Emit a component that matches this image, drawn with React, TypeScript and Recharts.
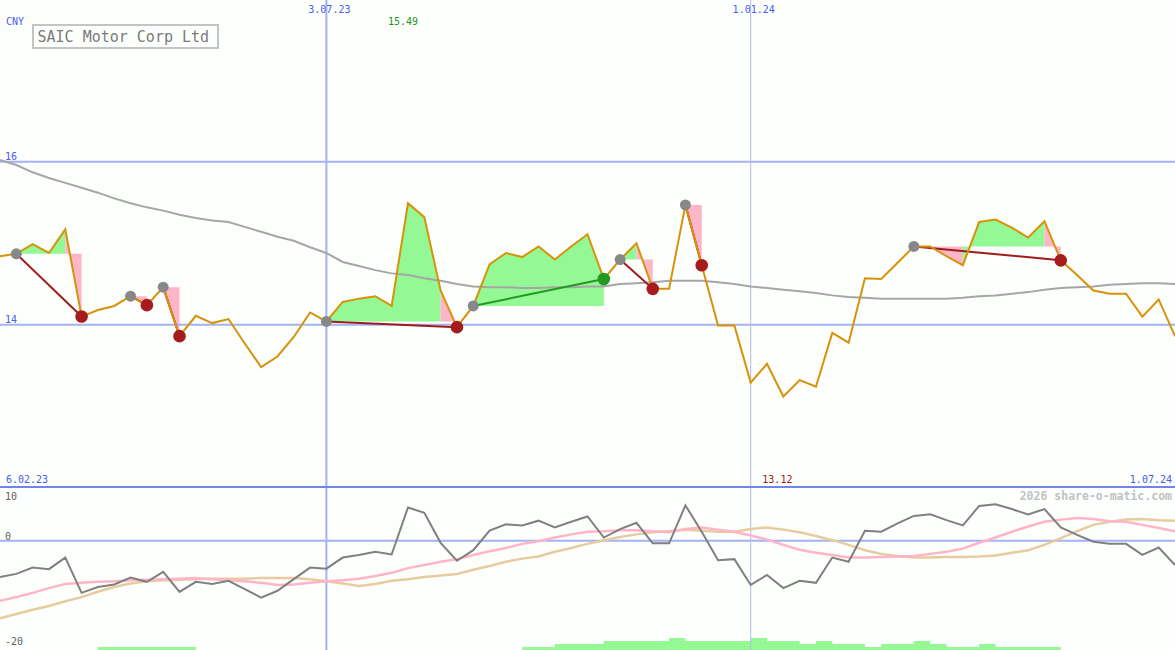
import React from "react";
import { ComposedChart, Line, Area, XAxis, YAxis, ReferenceLine } from "recharts";

const W = 1175;
const FONT = "'DejaVu Sans Mono', monospace";
const BLUE_TXT = "#4a5cf2";
const GRID = "#a3b3f3";
const GREEN = "#94f894";
const PINK = "#fdb6c8";

// week index of the labelled dates
const tickIdx = [0, 20, 46, 72];
const tickLabel = ["6.02.23", "3.07.23", "1.01.24", "1.07.24"];

// weekly close, CNY
const price = [
  14.84, 14.87, 14.99, 14.88, 15.17, 14.1, 14.18, 14.23, 14.35, 14.24,
  14.46, 13.86, 14.11, 14.02, 14.07, 13.77, 13.48, 13.61, 13.85, 14.15,
  14.04, 14.28, 14.32, 14.35, 14.23, 15.49, 15.32, 14.42, 13.97, 14.23,
  14.74, 14.88, 14.83, 14.96, 14.8, 14.96, 15.11, 14.56, 14.8, 15.0,
  14.44, 14.44, 15.47, 14.73, 13.99, 13.99, 13.29, 13.52, 13.12, 13.32,
  13.24, 13.9, 13.78, 14.57, 14.56, 14.76, 14.96, 14.96, 14.84, 14.73,
  15.26, 15.29, 15.19, 15.07, 15.27, 14.79, 14.61, 14.42, 14.38, 14.38,
  14.1, 14.31, 13.86,
];

// slow moving average
const avg = [
  16.02, 15.96, 15.87, 15.8, 15.74, 15.68, 15.62, 15.55, 15.49, 15.44,
  15.4, 15.35, 15.31, 15.28, 15.26, 15.2, 15.14, 15.08, 15.03, 14.95,
  14.88, 14.77, 14.72, 14.67, 14.63, 14.61, 14.57, 14.54, 14.5, 14.47,
  14.46, 14.46, 14.45, 14.45, 14.46, 14.46, 14.47, 14.47, 14.5, 14.51,
  14.52, 14.54, 14.54, 14.54, 14.52, 14.5, 14.47, 14.45, 14.43, 14.41,
  14.39, 14.36, 14.34, 14.33, 14.32, 14.32, 14.32, 14.32, 14.32, 14.33,
  14.35, 14.36, 14.38, 14.4, 14.43, 14.45, 14.46, 14.47, 14.49, 14.5,
  14.51, 14.51, 14.5,
];

// oscillator panel
const momentum = [
  -6.9, -6.3, -5.1, -5.4, -3.2, -9.9, -8.8, -8.3, -7.0, -7.8,
  -5.9, -9.7, -7.8, -8.2, -7.6, -9.2, -10.8, -9.5, -7.3, -5.1,
  -5.3, -3.2, -2.7, -2.1, -2.6, 6.3, 5.3, -0.4, -3.8, -1.8,
  1.9, 3.1, 2.9, 3.8, 2.5, 3.6, 4.6, 0.6, 2.2, 3.4,
  -0.5, -0.5, 6.7, 1.7, -3.7, -3.5, -8.4, -6.5, -9.0, -7.6,
  -8.0, -3.2, -4.0, 1.9, 1.7, 3.3, 4.7, 5.0, 3.9, 2.9,
  6.6, 6.9, 6.0, 5.0, 6.0, 2.5, 1.1, -0.2, -0.6, -0.6,
  -2.7, -1.3, -4.6,
];
const signal = [
  -11.4, -10.7, -9.9, -9.0, -8.2, -8.0, -7.8, -7.7, -7.5, -7.4,
  -7.3, -7.2, -7.1, -7.3, -7.5, -7.7, -8.0, -8.4, -8.3, -8.0,
  -7.7, -7.5, -7.2, -6.7, -6.1, -5.2, -4.6, -4.0, -3.5, -2.7,
  -2.0, -1.4, -0.6, -0.1, 0.6, 1.2, 1.7, 1.8, 2.0, 2.0,
  1.8, 1.6, 2.2, 2.5, 2.1, 1.7, 1.0, 0.2, -0.8, -1.7,
  -2.3, -2.7, -3.2, -3.2, -3.1, -3.0, -2.9, -2.5, -2.1, -1.5,
  -0.4, 0.6, 1.7, 2.7, 3.6, 4.0, 4.3, 4.1, 3.7, 3.6,
  3.0, 2.4, 1.8,
];
const trend = [
  -14.7, -13.9, -13.1, -12.4, -11.5, -10.7, -9.7, -8.8, -8.1, -7.7,
  -7.5, -7.4, -7.3, -7.2, -7.2, -7.2, -7.1, -7.1, -7.1, -7.3,
  -7.7, -8.1, -8.6, -8.2, -7.6, -7.3, -6.9, -6.6, -6.3, -5.5,
  -4.8, -4.0, -3.4, -3.0, -2.1, -1.4, -0.6, 0.1, 0.7, 1.2,
  1.6, 1.8, 2.1, 1.9, 1.7, 1.7, 2.2, 2.5, 2.1, 1.6,
  0.9, 0.1, -0.8, -1.8, -2.5, -2.9, -3.2, -3.2, -3.1, -3.1,
  -3.0, -2.8, -2.3, -1.8, -0.8, 0.5, 1.8, 3.0, 3.6, 4.0,
  4.1, 3.9, 3.8,
];
const activity = [
  null, null, null, null, null, null, 1, 1, 1, 1,
  1, 1, 1, null, null, null, null, null, null, null,
  null, null, null, null, null, null, null, null, null, null,
  null, null, 1, 1, 2, 2, 2, 3, 3, 3,
  3, 4, 3, 3, 3, 3, 4, 3, 3, 2,
  3, 2, 2, 1, 2, 2, 3, 2, 1, 1,
  2, 1, 1, 1, 1, 1, null, null, null, null,
  null, null, null,
];

// swing trades: start week -> end week
const swingFrom = [1, 8, 10, 20, 29, 38, 42, 56];
const swingTo = [5, 9, 11, 28, 37, 40, 43, 65];

const hiIdx = price.indexOf(Math.max(...price));
const loIdx = price.indexOf(Math.min(...price));

const rows: Record<string, any>[] = price.map((p, i) => ({
  i,
  price: p,
  avg: avg[i],
  mom: momentum[i],
  sig: signal[i],
  trend: trend[i],
  act: activity[i],
}));

// band between the entry level and the price, coloured per week
const bands: { key: string; color: string }[] = [];
swingFrom.forEach((a, k) => {
  const b = swingTo[k];
  const level = price[a];
  let start = a;
  for (let j = a; j < b; j++) {
    const up = price[j + 1] >= level;
    const last = j + 1 === b;
    const nextUp = last ? up : price[j + 2] >= level;
    if (last || nextUp !== up) {
      const key = `band${bands.length}`;
      bands.push({ key, color: up ? GREEN : PINK });
      for (let i = start; i <= j + 1; i++) rows[i][key] = [level, price[i]];
      start = j + 1;
    }
  }
  rows[a][`link${k}`] = price[a];
  rows[b][`link${k}`] = price[b];
});

const swingDot = (k: number) => (props: any) => {
  const { cx, cy, payload } = props;
  const key = `sd${k}-${payload?.i}`;
  if (cx == null || cy == null || payload?.[`link${k}`] == null) return <g key={key} />;
  const first = payload.i === swingFrom[k];
  const gain = price[swingTo[k]] > price[swingFrom[k]];
  return (
    <circle
      key={key}
      cx={cx}
      cy={cy}
      r={first ? 5.5 : 6.3}
      fill={first ? "#888888" : gain ? "#229a22" : "#a61c1c"}
    />
  );
};

const TopTick = (props: any) => {
  const v = props.payload.value;
  if (v === hiIdx) {
    return (
      <text x={props.x - 20} y={25} fill="#1c961c" fontSize={10} fontFamily={FONT}>
        {price[hiIdx].toFixed(2)}
      </text>
    );
  }
  return (
    <text x={props.x + 3} y={13} textAnchor="middle" fill={BLUE_TXT} fontSize={10} fontFamily={FONT}>
      {tickLabel[tickIdx.indexOf(v)]}
    </text>
  );
};

const BottomTick = (props: any) => {
  const v = props.payload.value;
  if (v === loIdx) {
    return (
      <text x={props.x - 21} y={483} fill="#a01818" fontSize={10} fontFamily={FONT}>
        {price[loIdx].toFixed(2)}
      </text>
    );
  }
  const atStart = v === tickIdx[0];
  return (
    <text
      x={atStart ? props.x + 6 : props.x - 3}
      y={483}
      textAnchor={atStart ? "start" : "end"}
      fill={BLUE_TXT}
      fontSize={10}
      fontFamily={FONT}
    >
      {tickLabel[tickIdx.indexOf(v)]}
    </text>
  );
};

const PriceTick = (props: any) => (
  <text x={5} y={props.y - 2} fill={BLUE_TXT} fontSize={10} fontFamily={FONT}>
    {props.payload.value}
  </text>
);

const OscTick = (props: any) => {
  const v = props.payload.value;
  return (
    <text x={5} y={v === 10 ? props.y + 12 : props.y - 1} fill="#606060" fontSize={10} fontFamily={FONT}>
      {v}
    </text>
  );
};

export default function App() {
  return (
    <div
      style={{
        position: "absolute",
        left: 0,
        top: 0,
        width: W,
        height: 650,
        background: "#fcfffc",
        overflow: "hidden",
      }}
    >
      <div style={{ position: "absolute", left: 0, top: 0 }}>
        <ComposedChart width={W} height={489} data={rows} margin={{ top: 0, right: 0, bottom: 2, left: 0 }}>
          <XAxis
            xAxisId="t"
            dataKey="i"
            type="number"
            domain={[0, 72]}
            orientation="top"
            mirror
            ticks={[tickIdx[1], hiIdx, tickIdx[2]]}
            interval={0}
            axisLine={false}
            tickLine={false}
            tick={TopTick}
          />
          <XAxis
            xAxisId="b"
            dataKey="i"
            type="number"
            domain={[0, 72]}
            mirror
            ticks={[tickIdx[0], loIdx, tickIdx[3]]}
            interval={0}
            axisLine={{ stroke: "#7283ea", strokeWidth: 2 }}
            tickLine={false}
            tick={BottomTick}
          />
          <YAxis
            domain={[12.009, 17.984]}
            mirror
            ticks={[14, 16]}
            interval={0}
            axisLine={false}
            tickLine={false}
            tick={PriceTick}
          />
          <ReferenceLine xAxisId="b" y={14} stroke={GRID} strokeWidth={2} />
          <ReferenceLine xAxisId="b" y={16} stroke={GRID} strokeWidth={2} />
          <ReferenceLine xAxisId="b" x={tickIdx[1]} stroke={GRID} strokeWidth={2} />
          <ReferenceLine xAxisId="b" x={tickIdx[2]} stroke="#b2bce6" strokeWidth={1} />

          {bands.map((b) => (
            <Area
              key={b.key}
              xAxisId="b"
              type="linear"
              dataKey={b.key}
              stroke="none"
              fill={b.color}
              fillOpacity={1}
              dot={false}
              activeDot={false}
              isAnimationActive={false}
            />
          ))}

          <Line
            xAxisId="b"
            type="linear"
            dataKey="avg"
            stroke="#a6a6a6"
            strokeWidth={2}
            dot={false}
            activeDot={false}
            isAnimationActive={false}
          />

          {swingFrom.map((a, k) => (
            <Line
              key={`link${k}`}
              xAxisId="b"
              type="linear"
              dataKey={`link${k}`}
              connectNulls
              stroke={price[swingTo[k]] > price[a] ? "#229a22" : "#a01c1c"}
              strokeWidth={2}
              dot={swingDot(k)}
              activeDot={false}
              isAnimationActive={false}
            />
          ))}

          <Line
            xAxisId="b"
            type="linear"
            dataKey="price"
            stroke="#d8920a"
            strokeWidth={2}
            dot={false}
            activeDot={false}
            isAnimationActive={false}
          />
        </ComposedChart>
      </div>

      <div style={{ position: "absolute", left: 0, top: 488 }}>
        <ComposedChart width={W} height={162} data={rows} margin={{ top: 0, right: 0, bottom: 0, left: 0 }}>
          <XAxis dataKey="i" type="number" domain={[0, 72]} hide />
          <YAxis
            yAxisId="o"
            domain={[-20.74, 10]}
            mirror
            ticks={[10, 0, -20]}
            interval={0}
            axisLine={false}
            tickLine={false}
            tick={OscTick}
          />
          <YAxis yAxisId="a" domain={[0, 54]} hide />
          <ReferenceLine yAxisId="o" y={0} stroke={GRID} strokeWidth={2} />
          <ReferenceLine yAxisId="o" x={tickIdx[1]} stroke={GRID} strokeWidth={2} />
          <ReferenceLine yAxisId="o" x={tickIdx[2]} stroke="#b2bce6" strokeWidth={1} />

          <Area
            yAxisId="a"
            type="stepAfter"
            dataKey="act"
            stroke="none"
            fill={GREEN}
            fillOpacity={1}
            dot={false}
            activeDot={false}
            isAnimationActive={false}
          />
          <Line yAxisId="o" type="linear" dataKey="trend" stroke="#e6cc9e" strokeWidth={2.5} dot={false} activeDot={false} isAnimationActive={false} />
          <Line yAxisId="o" type="linear" dataKey="sig" stroke="#ffb4c8" strokeWidth={2.5} dot={false} activeDot={false} isAnimationActive={false} />
          <Line yAxisId="o" type="linear" dataKey="mom" stroke="#808080" strokeWidth={2} dot={false} activeDot={false} isAnimationActive={false} />
        </ComposedChart>
      </div>

      <svg width={W} height={650} style={{ position: "absolute", left: 0, top: 0, pointerEvents: "none" }}>
        <text x={6} y={25} fill={BLUE_TXT} fontSize={10} fontFamily={FONT}>
          CNY
        </text>
        <rect x={33} y={25} width={185} height={23} fill="none" stroke="#c4c4c4" strokeWidth={2} />
        <text x={37.5} y={41.5} fill="#7a7a7a" fontSize={15} fontFamily={FONT}>
          SAIC Motor Corp Ltd
        </text>
        <text x={1172} y={500} textAnchor="end" fill="#c2c2c2" fontSize={11.5} fontWeight="bold" fontFamily={FONT}>
          2026 share-o-matic.com
        </text>
      </svg>
    </div>
  );
}
